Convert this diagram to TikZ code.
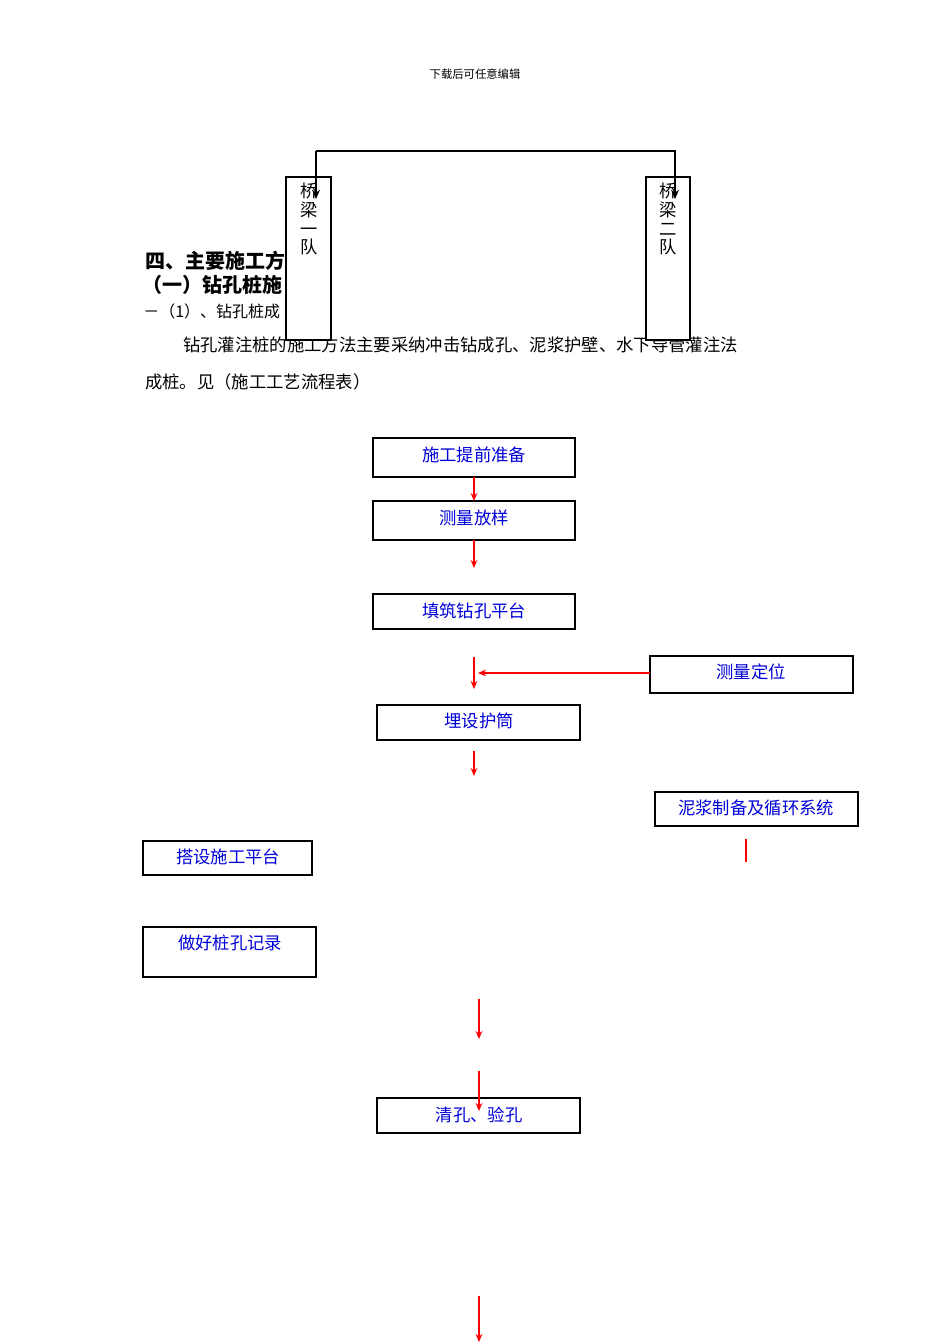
\documentclass[tikz,border=0pt]{standalone}
\usepackage{fontspec}
\newfontfamily\cjk{Noto Sans CJK SC}
\usetikzlibrary{arrows.meta}
\begin{document}
\begin{tikzpicture}[x=0.75pt,y=-0.75pt,
  box/.style={draw=black,line width=0.8pt},
  flow/.style={text=blue!85!black,font=\cjk\fontsize{13}{13}\selectfont},
  red arrow/.style={draw=red,line width=0.8pt,-{Stealth[length=6pt,width=5pt]}},
  plain/.style={font=\cjk\fontsize{13}{13}\selectfont,anchor=west,inner sep=0pt}]
\useasboundingbox[fill=white] (0,0) rectangle (950,1344);
\node[font=\cjk\fontsize{8.5}{9}\selectfont] (hdr) at (475,74) {下载后可任意编辑};
% headings
\node[plain,font=\cjk\bfseries\fontsize{15}{15}\selectfont] (h1) at (145,261) {四、主要施工方};
\node[plain,font=\cjk\bfseries\fontsize{15}{15}\selectfont] (h2) at (142,285) {（一）钻孔桩施};
\node[plain,font=\cjk\fontsize{12}{12}\selectfont] (h3) at (143,311) {－（1）、钻孔桩成};
\node[plain] (p1) at (183,345) {钻孔灌注桩的施工方法主要采纳冲击钻成孔、泥浆护壁、水下导管灌注法};
\node[plain] (p2) at (145,382) {成桩。见（施工工艺流程表）};
% team boxes
\draw[box,fill=white] (286,177) rectangle (331,340);
\draw[box,fill=white] (646,177) rectangle (690,340);
\node[font=\cjk\fontsize{13}{13}\selectfont,align=center,inner sep=0pt,anchor=north] (t1) at (309,183) {桥\\[1pt]梁\\[1pt]一\\[1pt]队};
\node[font=\cjk\fontsize{13}{13}\selectfont,align=center,inner sep=0pt,anchor=north] (t2) at (668,183) {桥\\[1pt]梁\\[1pt]二\\[1pt]队};
\coordinate (ta) at (316,199); \coordinate (tb) at (675,199);
\draw[line width=0.8pt,-{Stealth[length=7pt,width=6pt]}] (316,151) -- (ta);
\draw[line width=0.8pt,-{Stealth[length=7pt,width=6pt]}] (316,151) -- (675,151) -- (tb);
% flow boxes
\draw[box] (373,438) rectangle (575,477); \node[flow] (b1) at (474,455) {施工提前准备};
\draw[box] (373,501) rectangle (575,540); \node[flow] (b2) at (474,518) {测量放样};
\draw[box] (373,594) rectangle (575,629); \node[flow] (b3) at (474,611) {填筑钻孔平台};
\draw[box] (650,656) rectangle (853,693); \node[flow] (s1) at (751,672) {测量定位};
\draw[box] (377,705) rectangle (580,740); \node[flow] (b4) at (479,721) {埋设护筒};
\draw[box] (655,792) rectangle (858,826); \node[flow] (s2) at (756,808) {泥浆制备及循环系统};
\draw[box] (143,841) rectangle (312,875); \node[flow] (s3) at (228,857) {搭设施工平台};
\draw[box] (143,927) rectangle (316,977); \node[flow] (s4) at (230,943) {做好桩孔记录};
\draw[box] (377,1098) rectangle (580,1133); \node[flow] (b5) at (479,1115) {清孔、验孔};
% red arrows
\coordinate (a1) at (474,477); \coordinate (a2) at (474,501);
\draw[red arrow] (a1) -- (a2);
\coordinate (a3) at (474,540); \coordinate (a4) at (474,568);
\draw[red arrow] (a3) -- (a4);
\coordinate (a5) at (474,657); \coordinate (a6) at (474,689);
\draw[red arrow] (a5) -- (a6);
\coordinate (a7) at (650,673); \coordinate (a8) at (478,673);
\draw[red arrow] (a7) -- (a8);
\coordinate (a9) at (474,751); \coordinate (a10) at (474,776);
\draw[red arrow] (a9) -- (a10);
\coordinate (r1) at (746,839); \coordinate (r2) at (746,862);
\draw[red,line width=0.8pt] (r1) -- (r2);
\coordinate (a11) at (479,999); \coordinate (a12) at (479,1039);
\draw[red arrow] (a11) -- (a12);
\coordinate (a13) at (479,1071); \coordinate (a14) at (479,1111);
\draw[red arrow] (a13) -- (a14);
\coordinate (a15) at (479,1296); \coordinate (a16) at (479,1342);
\draw[red arrow] (a15) -- (a16);
\end{tikzpicture}
\end{document}
